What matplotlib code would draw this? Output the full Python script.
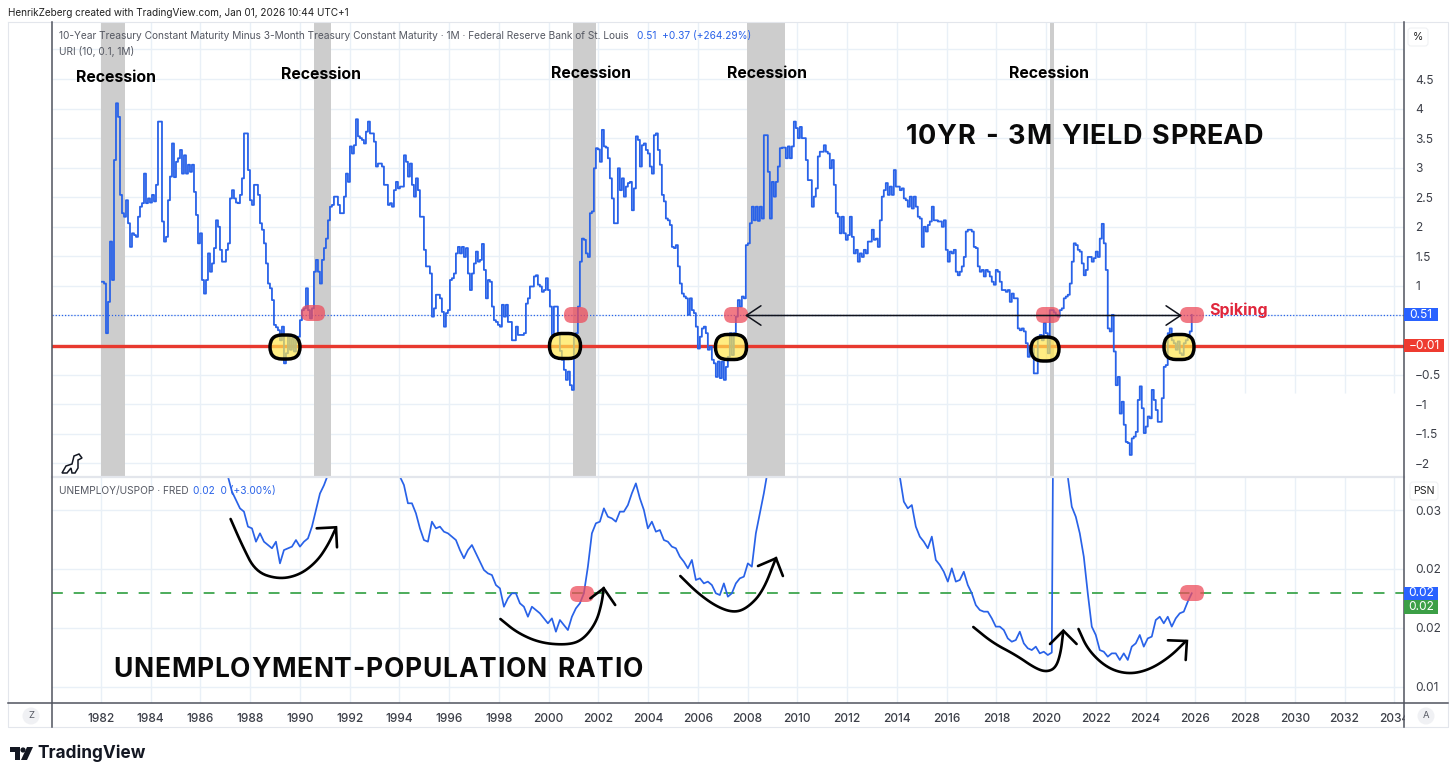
#!/usr/bin/env python3
"""10YR-3M yield spread over the unemployment-population ratio, TradingView style."""

import numpy as np
import matplotlib
matplotlib.use("Agg")
import matplotlib.pyplot as plt
from matplotlib.patches import FancyBboxPatch, Polygon, Rectangle, Circle

W, H = 1456, 779

# spread (%), one sample every 0.0804 yr from 1982.04
spread = [
    1.07, 1.04, .2, .73, 1.75, 1.1, 3.13, 4.09, 3.86, 2.54, 2.23, 2.17,
    2.45, 2.06, 1.66, 1.89, 1.86, 1.83, 2.17, 2.34, 2.4, 2.9, 2.4, 2.48,
    2.41, 2.54, 2.43, 2.71, 3.78, 3.78, 2.09, 1.75, 1.83, 2.45, 2.85, 3.41,
    2.84, 3.1, 3.16, 3.3, 2.9, 3.21, 2.9, 3.05, 2.93, 3.05, 2.59, 2.2,
    1.72, 1.89, 1.1, .87, 1.1, 1.55, 1.24, 1.38, 1.64, 2.11, 2.0, 1.61,
    1.41, 1.41, 1.61, 1.72, 2.48, 2.62, 2.48, 2.41, 2.4, 2.54, 2.82, 3.58,
    3.58, 2.96, 2.45, 2.37, 2.71, 2.71, 2.54, 2.06, 1.95, 1.72, 1.38, 1.04,
    .96, .76, .34, .3, .25, .08, .31, -.31, -.14, .14, -.08, .11,
    -.11, .08, .14, .42, .59, .62, .96, .59, .45, .62, 1.24, 1.44,
    1.24, 1.04, 1.44, 1.64, 1.8, 2.11, 2.34, 2.37, 2.51, 2.51, 2.37, 2.23,
    2.23, 2.51, 2.9, 2.76, 3.36, 3.24, 3.38, 3.82, 3.53, 3.5, 3.47, 3.41,
    3.61, 3.78, 3.58, 3.58, 3.44, 3.02, 3.07, 3.07, 3.02, 2.71, 2.71, 2.37,
    2.4, 2.34, 2.62, 2.76, 2.65, 2.68, 2.68, 3.21, 3.1, 2.85, 3.07, 2.71,
    2.51, 2.82, 2.62, 2.17, 2.17, 1.61, 1.33, 1.33, 1.21, .48, .62, .85,
    .85, .79, .56, .31, .54, .59, 1.1, 1.13, 1.21, 1.55, 1.66, 1.55,
    1.66, 1.49, 1.64, 1.21, .93, 1.21, 1.38, 1.58, 1.41, 1.44, 1.71, 1.27,
    .79, 1.1, 1.07, .65, .42, .39, .34, .31, .68, .48, .68, .39,
    .39, .08, .08, .31, .17, .17, .17, .2, .7, .79, .99, .99,
    1.16, 1.18, 1.02, .99, .9, .93, 1.13, .93, .65, .17, .65, .65,
    .17, -.1, -.25, -.42, -.59, -.45, -.68, -.76, .14, .2, .65, 1.41,
    1.8, 1.78, 1.55, 1.49, 2.23, 2.26, 2.99, 3.33, 3.31, 3.1, 3.64, 3.36,
    3.34, 3.16, 2.82, 2.48, 2.06, 2.06, 2.99, 2.62, 2.82, 2.51, 2.68, 2.74,
    2.76, 2.28, 2.65, 3.53, 3.47, 3.02, 3.38, 3.41, 3.3, 3.24, 3.02, 2.9,
    3.55, 3.58, 3.3, 3.05, 2.54, 2.43, 2.14, 2.11, 2.03, 1.66, 1.64, 1.69,
    1.33, 1.04, .87, .82, .79, .51, .79, .59, .54, .31, -.06, .14,
    .28, .31, .2, -.08, -.03, -.25, -.31, -.54, -.28, -.56, -.28, -.59,
    -.37, -.2, .2, -.17, .2, .48, .76, .65, .82, .79, 1.69, 1.72,
    2.06, 2.34, 2.11, 2.34, 2.1, 2.34, 2.14, 3.55, 3.55, 2.93, 2.14, 2.76,
    2.51, 2.76, 3.02, 3.33, 3.34, 3.34, 3.16, 3.36, 3.16, 3.36, 3.78, 3.67,
    3.5, 3.69, 3.5, 3.5, 3.13, 2.79, 2.79, 2.34, 2.51, 2.65, 3.19, 3.27,
    3.27, 3.38, 3.27, 3.24, 2.99, 3.13, 2.71, 2.23, 2.17, 1.89, 2.17, 1.89,
    1.78, 1.86, 2.17, 1.83, 1.55, 1.61, 1.41, 1.55, 1.49, 1.61, 1.55, 1.75,
    1.75, 1.95, 1.78, 1.8, 1.66, 2.11, 2.51, 2.62, 2.74, 2.54, 2.68, 2.54,
    2.96, 2.68, 2.68, 2.62, 2.65, 2.48, 2.45, 2.34, 2.51, 2.31, 2.51, 2.34,
    2.17, 2.14, 1.66, 2.0, 1.92, 2.03, 2.09, 2.34, 2.11, 2.11, 2.09, 2.09,
    2.0, 2.11, 1.61, 1.41, 1.58, 1.55, 1.61, 1.24, 1.18, 1.24, 1.33, 1.49,
    1.92, 1.95, 1.95, 1.92, 1.66, 1.64, 1.33, 1.24, 1.27, 1.16, 1.27, 1.24,
    1.16, 1.07, 1.02, 1.27, 1.24, 1.07, .93, .93, .9, .93, .73, .87,
    .79, .79, .28, .25, .28, .23, .03, -.2, -.03, -.06, -.48, -.48,
    .14, .17, .08, .37, .2, -.14, .59, .59, .55, .51, .48, .59,
    .62, .79, .82, .85, 1.04, 1.41, 1.72, 1.69, 1.61, 1.58, 1.38, 1.18,
    1.27, 1.49, 1.49, 1.41, 1.47, 1.58, 1.49, 1.8, 2.05, 1.72, 1.27, .28,
    .23, .51, -.11, -.68, -.54, -1.16, -.96, -1.35, -1.64, -1.66, -1.86, -1.58,
    -1.55, -1.47, -.93, -.7, -1.07, -1.49, -1.38, -1.21, -1.24, -.76, -.93, -1.1,
    -1.3, -1.3, -.9, -.37, -.34, .2, .28, .08, .03, -.08, .06, -.14,
    -.17, .03, .08, .14, .23, .51,
]

# ratio in thousandths, one sample every 0.1608 yr from 1981.96 (stretches above the pane are guesses)
ratio_k = [
    50.0, 51.0, 52.5, 54.0, 55.5, 56.5,
    57.5, 58.5, 59.0, 58.5, 58.0, 57.0,
    56.0, 55.0, 53.5, 52.0, 51.0, 50.0,
    49.0, 48.0, 47.0, 46.0, 45.0, 44.5,
    43.5, 42.5, 41.5, 40.5, 39.5, 38.0,
    35.5, 34.0, 32.83, 31.56, 30.85, 30.14,
    29.86, 28.59, 28.44, 27.31, 28.02, 27.31,
    27.03, 26.75, 27.31, 25.47, 26.6, 26.75,
    26.89, 27.45, 26.89, 27.31, 27.59, 28.59,
    30.0, 31.4, 32.1, 33.0, 34.0, 35.0,
    36.5, 38.0, 39.0, 39.5, 40.5, 41.0,
    41.5, 42.0, 41.5, 41.0, 40.0, 38.0,
    36.0, 34.5, 33.5, 32.83, 32.12, 30.57,
    30.57, 29.72, 28.44, 27.45, 27.31, 29.01,
    28.44, 28.59, 28.16, 28.02, 27.74, 27.45,
    26.6, 25.9, 26.6, 27.03, 26.32, 25.61,
    24.91, 24.62, 24.48, 23.63, 23.35, 21.79,
    22.5, 22.93, 22.93, 22.08, 21.79, 20.94,
    21.79, 21.51, 21.23, 20.8, 20.38, 20.8,
    19.67, 20.66, 20.24, 19.81, 20.94, 21.65,
    22.08, 22.93, 25.19, 28.02, 28.87, 29.01,
    30.14, 29.43, 29.29, 29.01, 29.86, 29.86,
    30.42, 31.42, 32.26, 30.99, 30.0, 28.44,
    29.01, 28.16, 28.3, 27.45, 27.31, 26.89,
    26.75, 26.04, 25.61, 25.05, 25.76, 24.06,
    24.2, 23.77, 23.92, 23.63, 22.93, 22.78,
    23.77, 22.64, 22.93, 23.77, 24.2, 24.34,
    25.47, 25.19, 28.02, 29.72, 31.42, 33.4,
    36.0, 39.0, 42.0, 45.0, 47.0, 48.0,
    49.0, 49.5, 49.5, 49.0, 48.5, 48.0,
    47.0, 46.5, 46.0, 45.0, 44.0, 43.0,
    42.0, 41.5, 41.0, 40.0, 39.5, 39.0,
    38.0, 37.5, 37.0, 36.0, 35.5, 35.0,
    34.0, 32.83, 32.83, 30.71, 30.14, 30.42,
    28.59, 27.74, 27.31, 26.75, 27.74, 25.76,
    25.33, 24.76, 23.92, 25.05, 23.92, 24.06,
    24.76, 23.63, 22.93, 21.93, 21.51, 21.37,
    21.37, 20.8, 20.1, 20.1, 19.81, 19.1,
    18.82, 18.96, 19.67, 18.68, 18.26, 18.11,
    18.4, 17.83, 17.97, 17.69, 17.9, 72.0,
    65.0, 45.0, 32.83, 30.28, 29.43, 28.02,
    26.04, 22.93, 20.1, 19.39, 18.11, 17.97,
    17.55, 17.83, 17.83, 17.27, 17.83, 17.27,
    18.4, 18.68, 19.39, 18.4, 19.1, 19.25,
    20.66, 20.94, 20.38, 20.94, 20.1, 20.8,
    21.23, 21.37, 22.22, 22.93,
]

recessions = [(1982.0, 1982.97), (1990.56, 1991.25), (2000.98, 2001.9), (2007.97, 2009.5), (2020.16, 2020.32)]
years = list(range(1982, 2036, 2))
spread_ticks = [5, 4.5, 4, 3.5, 3, 2.5, 2, 1.5, 1, 0.5, 0, -0.5, -1, -1.5, -2]
spread_labels = ["4.5", "4", "3.5", "3", "2.5", "2", "1.5", "1", "−0.5", "−1", "−1.5", "−2"]
spread_label_ticks = [4.5, 4, 3.5, 3, 2.5, 2, 1.5, 1, -0.5, -1, -1.5, -2]
ratio_ticks = [0.03, 0.025, 0.02, 0.015]
ratio_labels = ["0.03", "0.02", "0.02", "0.01"]
last_spread = 0.51
red_level = -0.01
green_level = 0.02297

BLUE = "#2962e8"
GRID = "#e9f0f7"
AXIS = "#50535e"
LABEL = "#3c3f48"
RED = "#e8392f"
BAND = "#cdcdcd"
plt.rcParams["font.family"] = ["Inter", "DejaVu Sans"]


def panel(top, bottom, left=52, right=1404):
    return fig.add_axes([left / W, 1 - bottom / H, (right - left) / W, (bottom - top) / H])


def smooth(pts, n=3):
    # chaikin corners so the marker strokes look hand drawn
    p = np.array(pts, dtype=float)
    for _ in range(n):
        q = np.empty((2 * len(p), 2))
        q[0::2] = 0.75 * p + 0.25 * np.roll(p, -1, axis=0)
        q[1::2] = 0.25 * p + 0.75 * np.roll(p, -1, axis=0)
        p = np.vstack([p[0], q[:-2], p[-1]])
    return p


def tracked(x0, x1, y, s, size):
    # big overlay titles are letter-spaced, so set each glyph to fill x0..x1
    r = fig.canvas.get_renderer()

    def width(t):
        tx = ink.text(0, 0, t.replace(" ", "n"), fontsize=size, fontweight="bold")
        w = tx.get_window_extent(r).width
        tx.remove()
        return w

    ws = [width(c) * (0.55 if c == " " else 1) for c in s]
    gap = (x1 - x0 - sum(ws)) / (len(s) - 1)
    x = x0
    for c, w in zip(s, ws):
        if c != " ":
            ink.text(x, y, c, fontsize=size, fontweight="bold", color="#0a0a0a", va="center_baseline", zorder=9)
        x += w + gap


fig = plt.figure(figsize=(W / 100, H / 100), dpi=100, facecolor="white")

XLIM = (1982 - 49 / 24.87, 1982 + 1303 / 24.87)

# top pane
ax = panel(22, 476)
ax.set_xlim(*XLIM)
ax.set_ylim((345 - 476) / 59.1, (345 - 22) / 59.1)
cut = (345 - 393) / 59.1
for v in spread_ticks:
    ax.hlines(v, XLIM[0], 2026.0 if v < cut else XLIM[1], color=GRID, lw=1, zorder=1)
for yr in years:
    ax.vlines(yr, cut if yr > 2026 else ax.get_ylim()[0], ax.get_ylim()[1], color=GRID, lw=1, zorder=1)
for a, b in recessions:
    ax.axvspan(a, b, color=BAND, lw=0, zorder=2)
ax.axhline(last_spread, color=BLUE, lw=0.9, ls=(0, (1, 1.5)), zorder=3)
ax.axhline(red_level, color=RED, lw=2.4, zorder=4)
spread_dates = 1982.04 + np.arange(len(spread)) * 0.0804
ax.plot(spread_dates, spread, color=BLUE, lw=1.3, drawstyle="steps-post", zorder=5)
ax.set_xticks([])
ax.yaxis.tick_right()
ax.set_yticks(spread_label_ticks)
ax.set_yticklabels(spread_labels, ha="left", fontsize=8.6, color=LABEL)
ax.tick_params(axis="y", length=0, pad=8)
for s in ax.spines.values():
    s.set_visible(False)

# bottom pane
ax2 = panel(478, 703)
ax2.set_xlim(*XLIM)
ax2.set_ylim(0.03 - 193 / 58.9 * 0.005, 0.03 + 32 / 58.9 * 0.005)
for v in ratio_ticks:
    ax2.axhline(v, color=GRID, lw=1, zorder=1)
for yr in years:
    ax2.axvline(yr, color=GRID, lw=1, zorder=1)
ax2.axhline(green_level, color="#2e9e3f", lw=1.2, ls=(0, (6.5, 6.5)), zorder=3)
ratio_dates = 1981.96 + np.arange(len(ratio_k)) * 0.1608
ax2.plot(ratio_dates, np.array(ratio_k) / 1000, color=BLUE, lw=1.25, zorder=5)
ax2.set_xticks(years)
ax2.set_xticklabels(years, fontsize=8.6, color=LABEL, fontweight="medium")
ax2.tick_params(axis="x", length=0, pad=7)
ax2.yaxis.tick_right()
ax2.set_yticks(ratio_ticks)
ax2.set_yticklabels(ratio_labels, ha="left", fontsize=8.6, color=LABEL)
ax2.tick_params(axis="y", length=0, pad=8)
for s in ax2.spines.values():
    s.set_visible(False)

# overlay in picture pixels for the frame, the marker strokes and the labels
ink = fig.add_axes([0, 0, 1, 1], zorder=10)
ink.set_xlim(0, W)
ink.set_ylim(H, 0)
ink.axis("off")

ink.add_patch(Rectangle((1405, 704), 43, 23, color="white", zorder=1))
ink.plot([8, 1448, 1448, 8, 8], [22, 22, 727, 727, 22], color="#e3e6ec", lw=0.8, zorder=2)
ink.plot([52, 1404], [477, 477], color="#e3e6ec", lw=1.6, zorder=2)
ink.plot([8, 1448], [703, 703], color=AXIS, lw=1.1, zorder=2)
ink.plot([52, 52], [22, 727], color=AXIS, lw=1.1, zorder=2)
ink.plot([1404, 1404], [22, 727], color=AXIS, lw=1.1, zorder=2)

# yellow circled crossings
for cx, cy, w, h in [(285, 347, 30, 24), (565, 346, 31, 25), (731, 347, 31, 25), (1045, 349, 28, 24), (1179, 347, 30, 25)]:
    ink.add_patch(FancyBboxPatch((cx - w / 2 + 11, cy - h / 2 + 11), w - 22, h - 22, boxstyle="round,pad=11,rounding_size=12",
                                 facecolor=(1, 0.9, 0.3, 0.7), edgecolor="black", lw=2.5, zorder=6))

# red pills
for cx, cy in [(313, 313), (576, 315), (736, 315), (1048, 315), (1192, 315), (582, 594), (1192, 593)]:
    ink.add_patch(FancyBboxPatch((cx - 6, cy - 2), 12, 4, boxstyle="round,pad=6,rounding_size=7.5",
                                 facecolor=(0.93, 0.3, 0.36, 0.75), edgecolor="none", zorder=7))

ink.annotate("", xy=(745, 315.5), xytext=(1182, 315.5), zorder=8,
             arrowprops=dict(arrowstyle="<->,head_length=0.75,head_width=0.5", color="#11131c", lw=1.1, shrinkA=0, shrinkB=0, mutation_scale=14))

arcs = [
    [(230.6, 519), (242, 545), (255.5, 571.7), (278.5, 579.3), (299.5, 575), (316.7, 561.7), (328, 545), (335.9, 528)],
    [(500.4, 619), (517.6, 633), (540.6, 643), (567.4, 645), (582.7, 640), (596, 623), (601.8, 603), (603.7, 588)],
    [(680.3, 576), (697.5, 593), (716.6, 606.7), (733.9, 612.7), (747.3, 608), (762.6, 592), (776, 558)],
    [(973.3, 627), (993, 643), (1015.8, 655), (1034.8, 668), (1046.2, 672), (1055.7, 668), (1060.7, 653), (1063.3, 631)],
    [(1078.5, 629), (1088, 650), (1107, 668), (1128, 674.3), (1148.9, 670), (1169.8, 657), (1186, 641)],
]
heads = [
    [(316.7, 528.3), (336, 527.3), (337, 547.3)],
    [(590.4, 598.3), (603.7, 588.3), (615.2, 605)],
    [(758, 566), (776, 558.3), (782.9, 576)],
    [(1050, 644), (1063.3, 630.7), (1076.6, 644)],
    [(1167.9, 640.3), (1186.9, 641), (1185.7, 660)],
]
for arc, head in zip(arcs, heads):
    p = smooth(arc)
    ink.plot(p[:, 0], p[:, 1], color="black", lw=1.9, solid_capstyle="round", zorder=9)
    h = np.array(head)
    ink.plot(h[:, 0], h[:, 1], color="black", lw=1.9, solid_capstyle="round", solid_joinstyle="miter", zorder=9)

# header and legends
ink.text(8, 13, "HenrikZeberg created with TradingView.com, Jan 01, 2026 10:44 UTC+1", fontsize=7.2, color="#222222", va="center")
ink.text(59, 36, "10-Year Treasury Constant Maturity Minus 3-Month Treasury Constant Maturity · 1M · Federal Reserve Bank of St. Louis",
         fontsize=7.3, color="#555862", va="center", zorder=3)
ink.text(637, 36, "0.51  +0.37 (+264.29%)", fontsize=7.3, color=BLUE, va="center", zorder=3)
ink.text(59, 51, "URI (10, 0.1, 1M)", fontsize=7.3, color="#555862", va="center", zorder=3)
ink.text(59, 491, "UNEMPLOY/USPOP · FRED", fontsize=7.3, color="#555862", va="center", zorder=3)
ink.text(193, 491, "0.02  0 (+3.00%)", fontsize=7.3, color=BLUE, va="center", zorder=3)

for cx, cy in [(116, 77), (321, 74), (591, 73), (767, 73), (1049, 73)]:
    ink.text(cx, cy, "Recession", fontsize=11.4, fontweight="bold", color="black", ha="center", va="center", zorder=9)
tracked(906, 1263, 134, "10YR - 3M YIELD SPREAD", 19.5)
tracked(113, 643, 667, "UNEMPLOYMENT-POPULATION RATIO", 19)
ink.text(1209, 310, "Spiking", fontsize=11.5, fontweight="bold", color="#e0263c", va="center", zorder=9)

# price tags on the right scale
for y0, y1, x1, col, txt in [(308, 321, 1438, "#2962ff", "0.51"), (339, 352, 1444, "#ee3b30", "−0.01"),
                             (587, 600, 1438, "#2962ff", "0.02"), (600, 614, 1438, "#3c9f46", "0.02")]:
    ink.add_patch(Rectangle((1404, y0), x1 - 1404, y1 - y0, color=col, lw=0, zorder=8))
    ink.text((1404 + x1) / 2, (y0 + y1) / 2, txt, color="white", fontsize=8.6, ha="center", va="center", zorder=9)

# scale buttons
for cx, cy, w, txt in [(1418, 37, 20, "%"), (1424, 491, 28, "PSN")]:
    ink.add_patch(FancyBboxPatch((cx - w / 2 + 3, cy - 6), w - 6, 12, boxstyle="round,pad=3,rounding_size=3",
                                 facecolor="white", edgecolor="#f0f1f4", lw=0.8, zorder=8))
    ink.text(cx, cy, txt, fontsize=7.6, color="#222222", ha="center", va="center", zorder=9)
for cx, txt in [(31, "Z"), (1426, "A")]:
    ink.add_patch(Circle((cx, 716), 8.5, facecolor="#f0f1f4", edgecolor="none", zorder=8))
    ink.text(cx, 716, txt, fontsize=6.8, color="#555862", ha="center", va="center", zorder=9)

# dino
dino = [(62, 473), (66, 466), (72, 464), (74, 456), (79, 454), (82, 458), (78, 460), (78, 468), (75, 473), (72, 473), (71, 468), (67, 473)]
ink.add_patch(Polygon(dino, closed=True, facecolor="white", edgecolor="#131722", lw=1.1, zorder=8))

# logo
ink.add_patch(Polygon([(10, 747), (20, 747), (20, 760), (15, 760), (15, 752), (10, 752)], closed=True, color="#131722", lw=0, zorder=8))
ink.add_patch(Circle((23, 750), 2.6, color="#131722", lw=0, zorder=8))
ink.add_patch(Polygon([(27, 747), (33, 747), (27, 760), (21, 760)], closed=True, color="#131722", lw=0, zorder=8))
ink.text(37, 753, "TradingView", fontsize=12.4, fontweight="bold", color="#131722", va="center", zorder=8)

fig.savefig("out.png", dpi=100)
